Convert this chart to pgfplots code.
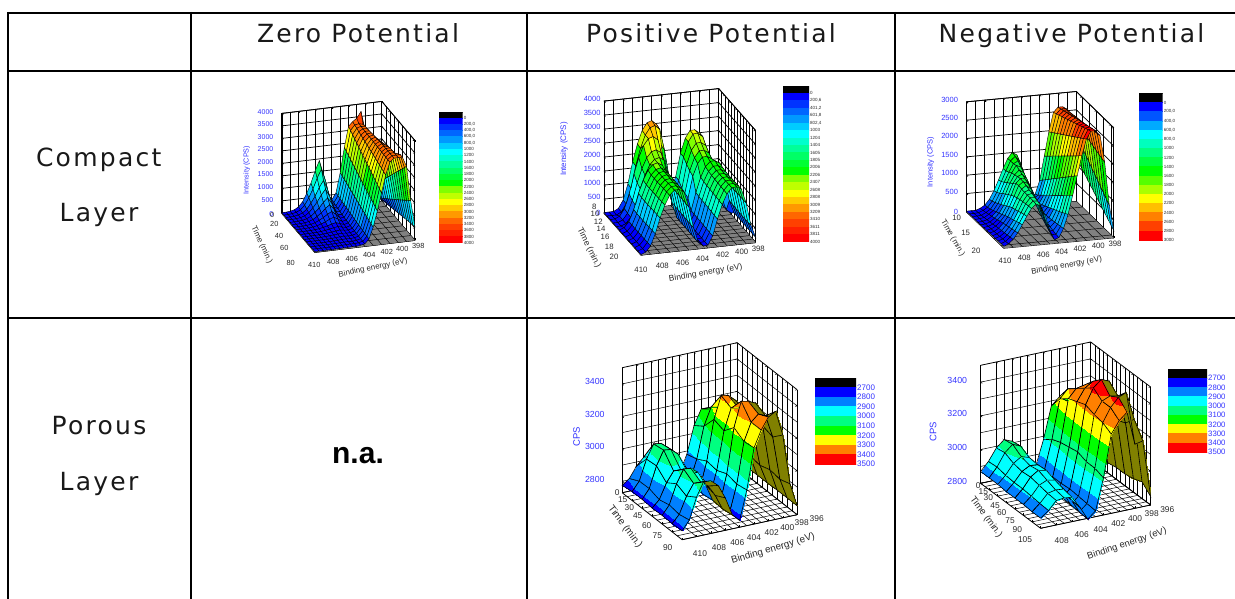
\documentclass[border=0pt]{standalone}
\usepackage{pgfplots}
\pgfplotsset{compat=1.18}
\usepackage{pgfplotstable}
\usepackage{fontspec}
\setmainfont{Liberation Sans}
\newfontfamily\headfont[LetterSpace=9]{DejaVu Sans}
\definecolor{tickblue}{RGB}{51,51,255}
\definecolor{ticktxt}{RGB}{40,40,40}

\pgfplotsset{
  colormap={cpstwentyone}{rgb255=(0,0,0) rgb255=(0,0,255) rgb255=(0,51,255) rgb255=(0,102,255) rgb255=(0,153,255) rgb255=(0,204,255) rgb255=(0,255,255) rgb255=(0,255,204) rgb255=(0,255,153) rgb255=(0,255,102) rgb255=(0,255,51) rgb255=(0,255,0) rgb255=(128,255,0) rgb255=(191,255,0) rgb255=(255,255,0) rgb255=(255,204,0) rgb255=(255,153,0) rgb255=(255,102,0) rgb255=(255,64,0) rgb255=(255,32,0) rgb255=(255,0,0)},
  colormap={cpssixteen}{rgb255=(0,0,0) rgb255=(0,0,255) rgb255=(0,85,255) rgb255=(0,170,255) rgb255=(0,255,255) rgb255=(0,255,190) rgb255=(0,255,128) rgb255=(0,255,64) rgb255=(0,255,0) rgb255=(85,255,0) rgb255=(170,255,0) rgb255=(255,255,0) rgb255=(255,191,0) rgb255=(255,128,0) rgb255=(255,64,0) rgb255=(255,0,0)},
  colormap={cpsnine}{rgb255=(0,0,0) rgb255=(0,0,255) rgb255=(0,128,255) rgb255=(0,255,255) rgb255=(0,255,128) rgb255=(0,255,0) rgb255=(255,255,0) rgb255=(255,128,0) rgb255=(255,0,0)},
  colormap={undersideolive}{rgb255=(128,128,0) rgb255=(128,128,0)},
  cube3d/.style={
    anchor=south west, clip=false, grid=both, no markers,
    major grid style={black,line width=0.7pt},
    minor grid style={black,line width=0.7pt},
    axis line style={black,line width=0.8pt},
    major tick length=2pt, minor tick length=0pt,
    tick style={black,line width=0.5pt},
    xticklabels={}, yticklabels={},
    /pgf/number format/assume math mode=true,
    /pgf/number format/1000 sep={},
    colormap access=piecewise constant,
  },
  meshsurf/.style={surf, shader=faceted, faceted color=black, z buffer=sort, line width=0.4pt, unbounded coords=jump},
  meshbands/.style={meshsurf, shader=faceted interp, line width=0.6pt},
}

% colour key: x, y (px), w, h, colormap, last index, labels, font size, colour
\pgfplotstableread{
x y
0 -1
1 -1
0 0
1 0
0 1
1 1
0 2
1 2
0 3
1 3
0 4
1 4
0 5
1 5
0 6
1 6
0 7
1 7
0 8
1 8
0 9
1 9
0 10
1 10
0 11
1 11
0 12
1 12
0 13
1 13
0 14
1 14
0 15
1 15
0 16
1 16
0 17
1 17
0 18
1 18
0 19
1 19
0 20
1 20
}\keygrid
\newcommand{\colorkey}[9]{
\begin{axis}[at={(#1pt,-#2pt)}, anchor=north west, scale only axis, width=#3pt, height=#4pt,
  axis line style={draw=none}, y dir=reverse, xmin=0, xmax=1, ymin=-1, ymax=#6,
  xtick=\empty, ytick={0,...,#6}, yticklabels={#7}, yticklabel pos=right, major tick length=0pt,
  tick label style={font=\fontsize{#8}{#8}\selectfont, text=#9, inner sep=1pt},
  colormap name=#5, colormap access=piecewise constant, point meta min=-1, point meta max=#6]
\addplot[surf, shader=flat mean, mesh/cols=2, point meta=y] table[x=x,y=y] {\keygrid};
\end{axis}
}
% grey floor with its grid: E min, E max, t min, t max, z, E list, t list
\newcommand{\greyfloor}[7]{
\addplot3[fill=gray,draw=none,forget plot] coordinates {(#1,#3,#5) (#2,#3,#5) (#2,#4,#5) (#1,#4,#5)};
\pgfplotsinvokeforeach{#6}{\addplot3[black,line width=0.45pt,forget plot] coordinates {(##1,#3,#5) (##1,#4,#5)};}
\pgfplotsinvokeforeach{#7}{\addplot3[black,line width=0.45pt,forget plot] coordinates {(#1,##1,#5) (#2,##1,#5)};}
}
% tick labels, placed where the reference has them
\newcommand{\ticktexts}[2]{\foreach \px/\py/\t in {#2} {\node[font=\fontsize{#1}{#1}\selectfont,text=ticktxt,inner sep=0pt] at (\px,\py) {\t};}}

% compact layer, zero potential
\pgfplotstableread{
398 0 63
398.5 0 162
399 0 690
399.5 0 1845
400 0 2934
400.5 0 3700
401 0 3450
401.5 0 3330
402 0 3165
402.5 0 2340
403 0 1350
403.5 0 563
404 0 309
404.5 0 538
405 0 1360
405.5 0 1930
406 0 1550
406.5 0 1075
407 0 695
407.5 0 372
408 0 182
408.5 0 87
409 0 49
409.5 0 30
410 0 30

398 5 94
398.5 5 252
399 5 835
399.5 5 1950
400 5 2971
400.5 5 3276
401 5 3325
401.5 5 3294
402 5 3096
402.5 5 2279
403 5 1311
403.5 5 542
404 5 288
404.5 5 476
405 5 1185
405.5 5 1680
406 5 1350
406.5 5 938
407 5 608
407.5 5 327
408 5 162
408.5 5 80
409 5 47
409.5 5 30
410 5 30

398 10 125
398.5 10 342
399 10 979
399.5 10 2056
400 10 3009
400.5 10 3289
401 10 3320
401.5 10 3259
402 10 3027
402.5 10 2218
403 10 1273
403.5 10 520
404 10 261
404.5 10 388
405 10 940
405.5 10 1330
406 10 1070
406.5 10 745
407 10 485
407.5 10 264
408 10 134
408.5 10 69
409 10 43
409.5 10 30
410 10 30

398 15 155
398.5 15 433
399 15 1124
399.5 15 2161
400 15 3046
400.5 15 3301
401 15 3315
401.5 15 3223
402 15 2958
402.5 15 2156
403 15 1234
403.5 15 499
404 15 240
404.5 15 325
405 15 765
405.5 15 1080
406 15 870
406.5 15 608
407 15 398
407.5 15 219
408 15 114
408.5 15 62
409 15 41
409.5 15 30
410 15 30

398 20 186
398.5 20 523
399 20 1269
399.5 20 2266
400 20 3083
400.5 20 3313
401 20 3310
401.5 20 3188
402 20 2889
402.5 20 2095
403 20 1195
403.5 20 479
404 20 219
404.5 20 263
405 20 590
405.5 20 830
406 20 670
406.5 20 470
407 20 310
407.5 20 174
408 20 94
408.5 20 54
409 20 38
409.5 20 30
410 20 30

398 25 217
398.5 25 613
399 25 1414
399.5 25 2372
400 25 3120
400.5 25 3325
401 25 3305
401.5 25 3152
402 25 2820
402.5 25 2034
403 25 1156
403.5 25 459
404 25 202
404.5 25 218
405 25 464
405.5 25 650
406 25 526
406.5 25 371
407 25 247
407.5 25 142
408 25 80
408.5 25 49
409 25 36
409.5 25 30
410 25 30

398 30 248
398.5 30 703
399 30 1558
399.5 30 2477
400 30 3158
400.5 30 3338
401 30 3300
401.5 30 3116
402 30 2751
402.5 30 1973
403 30 1118
403.5 30 440
404 30 186
404.5 30 176
405 30 345
405.5 30 480
406 30 390
406.5 30 278
407 30 188
407.5 30 111
408 30 66
408.5 30 44
409 30 35
409.5 30 30
410 30 30

398 35 278
398.5 35 793
399 35 1703
399.5 35 2582
400 35 3195
400.5 35 3350
401 35 3295
401.5 35 3081
402 35 2682
402.5 35 1911
403 35 1079
403.5 35 422
404 35 172
404.5 35 143
405 35 254
405.5 35 350
406 35 286
406.5 35 206
407 35 142
407.5 35 88
408 35 56
408.5 35 40
409 35 33
409.5 35 30
410 35 30

398 40 309
398.5 40 884
399 40 1848
399.5 40 2687
400 40 3232
400.5 40 3362
401 40 3290
401.5 40 3045
402 40 2613
402.5 40 1850
403 40 1040
403.5 40 404
404 40 159
404.5 40 113
405 40 170
405.5 40 230
406 40 190
406.5 40 140
407 40 100
407.5 40 66
408 40 46
408.5 40 36
409 40 32
409.5 40 30
410 40 30

398 45 340
398.5 45 974
399 45 1992
399.5 45 2793
400 45 3269
400.5 45 3374
401 45 3285
401.5 45 3010
402 45 2544
402.5 45 1789
403 45 1001
403.5 45 387
404 45 149
404.5 45 98
405 45 128
405.5 45 170
406 45 142
406.5 45 107
407 45 79
407.5 45 55
408 45 41
408.5 45 34
409 45 31
409.5 45 30
410 45 30

398 50 371
398.5 50 1064
399 50 2137
399.5 50 2898
400 50 3307
400.5 50 3387
401 50 3280
401.5 50 2974
402 50 2475
402.5 50 1728
403 50 963
403.5 50 371
404 50 141
404.5 50 88
405 50 100
405.5 50 130
406 50 110
406.5 50 85
407 50 65
407.5 50 48
408 50 38
408.5 50 33
409 50 31
409.5 50 30
410 50 30

398 55 401
398.5 55 1154
399 55 2282
399.5 55 3003
400 55 3344
400.5 55 3390
401 55 3275
401.5 55 2938
402 55 2406
402.5 55 1666
403 55 924
403.5 55 354
404 55 133
404.5 55 80
405 55 79
405.5 55 100
406 55 86
406.5 55 69
407 55 55
407.5 55 43
408 55 36
408.5 55 32
409 55 31
409.5 55 30
410 55 30

398 60 432
398.5 60 1244
399 60 2426
399.5 60 3109
400 60 3381
400.5 60 3390
401 60 3270
401.5 60 2903
402 60 2337
402.5 60 1605
403 60 885
403.5 60 339
404 60 126
404.5 60 75
405 60 65
405.5 60 80
406 60 70
406.5 60 58
407 60 48
407.5 60 39
408 60 34
408.5 60 32
409 60 31
409.5 60 30
410 60 30

398 65 463
398.5 65 1335
399 65 2571
399.5 65 3214
400 65 3390
400.5 65 3390
401 65 3265
401.5 65 2867
402 65 2268
402.5 65 1544
403 65 846
403.5 65 323
404 65 119
404.5 65 73
405 65 58
405.5 65 70
406 65 62
406.5 65 52
407 65 44
407.5 65 37
408 65 33
408.5 65 31
409 65 30
409.5 65 30
410 65 30

398 70 494
398.5 70 1425
399 70 2716
399.5 70 3319
400 70 3390
400.5 70 3390
401 70 3260
401.5 70 2832
402 70 2199
402.5 70 1483
403 70 808
403.5 70 308
404 70 113
404.5 70 70
405 70 51
405.5 70 60
406 70 54
406.5 70 47
407 70 41
407.5 70 35
408 70 32
408.5 70 31
409 70 30
409.5 70 30
410 70 30

398 75 524
398.5 75 1515
399 75 2860
399.5 75 3390
400 75 3390
400.5 75 3390
401 75 3255
401.5 75 2796
402 75 2130
402.5 75 1421
403 75 769
403.5 75 292
404 75 107
404.5 75 69
405 75 48
405.5 75 55
406 75 50
406.5 75 44
407 75 39
407.5 75 35
408 75 32
408.5 75 31
409 75 30
409.5 75 30
410 75 30

398 80 555
398.5 80 1605
399 80 3005
399.5 80 3390
400 80 3390
400.5 80 3390
401 80 3250
401.5 80 2760
402 80 2060
402.5 80 1360
403 80 730
403.5 80 276
404 80 101
404.5 80 68
405 80 44
405.5 80 50
406 80 46
406.5 80 41
407 80 37
407.5 80 34
408 80 32
408.5 80 31
409 80 30
409.5 80 30
410 80 30
}\compactzero

% compact layer, positive potential
\pgfplotstableread{
398 8 72
398.5 8 228
399 8 800
399.5 8 1840
400 8 2490
400.5 8 2620
401 8 2620
401.5 8 2360
402 8 1840
402.5 8 1023
403 8 538
403.5 8 1157
404 8 2190
404.5 8 2965
405 8 3120
405.5 8 3058
406 8 2810
406.5 8 2345
407 8 1725
407.5 8 950
408 8 392
408.5 8 113
409 8 20
409.5 8 20
410 8 20

398 9 72
398.5 9 228
399 9 800
399.5 9 1840
400 9 2490
400.5 9 2620
401 9 2620
401.5 9 2360
402 9 1840
402.5 9 1022
403 9 533
403.5 9 1140
404 9 2155
404.5 9 2918
405 9 3070
405.5 9 3010
406 9 2765
406.5 9 2308
407 9 1698
407.5 9 935
408 9 386
408.5 9 112
409 9 20
409.5 9 20
410 9 20

398 10 68
398.5 10 212
399 10 740
399.5 10 1700
400 10 2300
400.5 10 2420
401 10 2420
401.5 10 2180
402 10 1700
402.5 10 860
403 10 296
403.5 10 328
404 10 1000
404.5 10 1980
405 10 2680
405.5 10 2820
406 10 2764
406.5 10 2540
407 10 2120
407.5 10 1560
408 10 860
408.5 10 356
409 10 104
409.5 10 20
410 10 20

398 11 65
398.5 11 200
399 11 695
399.5 11 1595
400 11 2158
400.5 11 2270
401 11 2270
401.5 11 2045
402 11 1595
402.5 11 808
403 11 265
403.5 11 310
404 11 878
404.5 11 1735
405 11 2348
405.5 11 2470
406 11 2421
406.5 11 2225
407 11 1858
407.5 11 1368
408 11 755
408.5 11 314
409 11 94
409.5 11 20
410 11 20

398 12 63
398.5 12 192
399 12 665
399.5 12 1525
400 12 2063
400.5 12 2170
401 12 2170
401.5 12 1955
402 12 1525
402.5 12 773
403 12 261
403.5 12 293
404 12 825
404.5 12 1630
405 12 2205
405.5 12 2320
406 12 2274
406.5 12 2090
407 12 1745
407.5 12 1285
408 12 710
408.5 12 296
409 12 89
409.5 12 20
410 12 20

398 13 188
398.5 13 650
399 13 1490
399.5 13 2015
400 13 2120
400.5 13 2120
401 13 1952
401.5 13 1595
402 13 1070
402.5 13 440
403 13 104
403.5 13 88
404 13 245
404.5 13 808
405 13 1595
405.5 13 2158
406 13 2270
406.5 13 2225
407 13 2045
407.5 13 1708
408 13 1258
408.5 13 695
409 13 290
409.5 13 88
410 13 20

398 14 184
398.5 14 635
399 14 1455
399.5 14 1968
400 14 2070
400.5 14 2070
401 14 1906
401.5 14 1558
402 14 1045
402.5 14 430
403 14 102
403.5 14 86
404 14 240
404.5 14 790
405 14 1560
405.5 14 2110
406 14 2220
406.5 14 2176
407 14 2000
407.5 14 1670
408 14 1230
408.5 14 680
409 14 284
409.5 14 86
410 14 20

398 15 182
398.5 15 629
399 15 1441
399.5 15 1949
400 15 2050
400.5 15 2050
401 15 1888
401.5 15 1543
402 15 1035
402.5 15 426
403 15 101
403.5 15 86
404 15 240
404.5 15 790
405 15 1560
405.5 15 2110
406 15 2220
406.5 15 2176
407 15 2000
407.5 15 1670
408 15 1230
408.5 15 680
409 15 284
409.5 15 86
410 15 20

398 16 180
398.5 16 625
399 16 1435
399.5 16 1940
400 16 2040
400.5 16 2040
401 16 1880
401.5 16 1535
402 16 1030
402.5 16 424
403 16 100
403.5 16 86
404 16 240
404.5 16 790
405 16 1560
405.5 16 2110
406 16 2220
406.5 16 2176
407 16 2000
407.5 16 1670
408 16 1230
408.5 16 680
409 16 284
409.5 16 86
410 16 20

398 17 180
398.5 17 625
399 17 1440
399.5 17 1950
400 17 2050
400.5 17 2040
401 17 1870
401.5 17 1525
402 17 1020
402.5 17 420
403 17 100
403.5 17 85
404 17 235
404.5 17 785
405 17 1550
405.5 17 2100
406 17 2210
406.5 17 2180
407 17 2010
407.5 17 1680
408 17 1240
408.5 17 690
409 17 288
409.5 17 86
410 17 20

398 18 182
398.5 18 630
399 18 1445
399.5 18 1955
400 18 2055
400.5 18 2045
401 18 1865
401.5 18 1515
402 18 1010
402.5 18 415
403 18 98
403.5 18 85
404 18 232
404.5 18 780
405 18 1545
405.5 18 2095
406 18 2205
406.5 18 2185
407 18 2015
407.5 18 1685
408 18 1245
408.5 18 695
409 18 290
409.5 18 87
410 18 20

398 19 182
398.5 19 632
399 19 1450
399.5 19 1960
400 19 2060
400.5 19 2050
401 19 1860
401.5 19 1505
402 19 1000
402.5 19 410
403 19 96
403.5 19 84
404 19 230
404.5 19 775
405 19 1540
405.5 19 2090
406 19 2200
406.5 19 2190
407 19 2020
407.5 19 1690
408 19 1250
408.5 19 700
409 19 292
409.5 19 87
410 19 20

398 20 184
398.5 20 635
399 20 1455
399.5 20 1965
400 20 2065
400.5 20 2055
401 20 1855
401.5 20 1495
402 20 990
402.5 20 405
403 20 95
403.5 20 84
404 20 228
404.5 20 770
405 20 1535
405.5 20 2085
406 20 2195
406.5 20 2195
407 20 2025
407.5 20 1695
408 20 1255
408.5 20 705
409 20 295
409.5 20 88
410 20 20
}\compactpos

% compact layer, negative potential
\pgfplotstableread{
398 8 1190
398.5 8 2100
399 8 2542
399.5 8 2620
400 8 2620
400.5 8 2490
401 8 1970
401.5 8 1320
402 8 670
402.5 8 310
403 8 216
403.5 8 494
404 8 1056
404.5 8 1426
405 8 1500
405.5 8 1352
406 8 1086
406.5 8 790
407 8 508
407.5 8 286
408 8 138
408.5 8 64
409 8 20
409.5 8 20
410 8 20

398 9 1114
398.5 9 2008
399 9 2507
399.5 9 2636
400 9 2647
400.5 9 2527
401 9 2031
401.5 9 1397
402 9 756
402.5 9 355
403 9 249
403.5 9 447
404 9 927
404.5 9 1320
405 9 1470
405.5 9 1360
406 9 1100
406.5 9 820
407 9 540
407.5 9 310
408 9 155
408.5 9 80
409 9 28
409.5 9 20
410 9 20

398 10 1037
398.5 10 1916
399 10 2472
399.5 10 2651
400 10 2674
400.5 10 2564
401 10 2092
401.5 10 1474
402 10 842
402.5 10 431
403 10 270
403.5 10 374
404 10 774
404.5 10 1190
405 10 1420
405.5 10 1360
406 10 1140
406.5 10 880
407 10 590
407.5 10 350
408 10 180
408.5 10 100
409 10 35
409.5 10 25
410 10 20

398 11 961
398.5 11 1824
399 11 2437
399.5 11 2667
400 11 2701
400.5 11 2601
401 11 2153
401.5 11 1551
402 11 928
402.5 11 506
403 11 300
403.5 11 322
404 11 640
404.5 11 1040
405 11 1330
405.5 11 1390
406 11 1200
406.5 11 940
407 11 660
407.5 11 400
408 11 220
408.5 11 130
409 11 50
409.5 11 30
410 11 20

398 12 884
398.5 12 1732
399 12 2401
399.5 12 2682
400 12 2728
400.5 12 2638
401 12 2214
401.5 12 1628
402 12 1015
402.5 12 581
403 12 331
403.5 12 289
404 12 527
404.5 12 910
405 12 1250
405.5 12 1340
406 12 1220
406.5 12 1010
407 12 720
407.5 12 450
408 12 260
408.5 12 150
409 12 65
409.5 12 35
410 12 20

398 13 808
398.5 13 1640
399 13 2366
399.5 13 2698
400 13 2755
400.5 13 2675
401 13 2275
401.5 13 1705
402 13 1101
402.5 13 657
403 13 377
403.5 13 286
404 13 454
404.5 13 790
405 13 1170
405.5 13 1300
406 13 1250
406.5 13 1070
407 13 780
407.5 13 500
408 13 300
408.5 13 175
409 13 80
409.5 13 40
410 13 25

398 14 732
398.5 14 1548
399 14 2331
399.5 14 2714
400 14 2782
400.5 14 2711
401 14 2336
401.5 14 1782
402 14 1187
402.5 14 732
403 14 423
403.5 14 283
404 14 391
404.5 14 660
405 14 1080
405.5 14 1250
406 14 1270
406.5 14 1150
407 14 840
407.5 14 560
408 14 340
408.5 14 205
409 14 100
409.5 14 50
410 14 28

398 15 655
398.5 15 1457
399 15 2296
399.5 15 2729
400 15 2808
400.5 15 2748
401 15 2398
401.5 15 1859
402 15 1273
402.5 15 807
403 15 469
403.5 15 291
404 15 338
404.5 15 540
405 15 990
405.5 15 1200
406 15 1260
406.5 15 1170
407 15 890
407.5 15 620
408 15 390
408.5 15 240
409 15 120
409.5 15 58
410 15 30

398 16 579
398.5 16 1365
399 16 2261
399.5 16 2745
400 16 2835
400.5 16 2785
401 16 2459
401.5 16 1936
402 16 1359
402.5 16 882
403 16 515
403.5 16 298
404 16 284
404.5 16 450
405 16 900
405.5 16 1130
406 16 1230
406.5 16 1150
407 16 920
407.5 16 660
408 16 430
408.5 16 265
409 16 140
409.5 16 65
410 16 32

398 17 502
398.5 17 1273
399 17 2226
399.5 17 2760
400 17 2862
400.5 17 2822
401 17 2520
401.5 17 2013
402 17 1445
402.5 17 958
403 17 560
403.5 17 315
404 17 241
404.5 17 360
405 17 800
405.5 17 1060
406 17 1190
406.5 17 1140
407 17 950
407.5 17 690
408 17 460
408.5 17 290
409 17 155
409.5 17 72
410 17 35

398 18 426
398.5 18 1181
399 18 2190
399.5 18 2776
400 18 2889
400.5 18 2859
401 18 2581
401.5 18 2090
402 18 1532
402.5 18 1033
403 18 606
403.5 18 332
404 18 208
404.5 18 290
405 18 690
405.5 18 970
406 18 1170
406.5 18 1140
407 18 970
407.5 18 720
408 18 490
408.5 18 310
409 18 170
409.5 18 80
410 18 40

398 19 350
398.5 19 1089
399 19 2155
399.5 19 2792
400 19 2916
400.5 19 2896
401 19 2642
401.5 19 2167
402 19 1618
402.5 19 1108
403 19 657
403.5 19 349
404 19 185
404.5 19 220
405 19 580
405.5 19 900
406 19 1130
406.5 19 1140
407 19 990
407.5 19 760
408 19 530
408.5 19 340
409 19 185
409.5 19 88
410 19 45

398 20 273
398.5 20 997
399 20 2120
399.5 20 2807
400 20 2943
400.5 20 2933
401 20 2703
401.5 20 2244
402 20 1704
402.5 20 1184
403 20 708
403.5 20 367
404 20 161
404.5 20 160
405 20 470
405.5 20 840
406 20 1110
406.5 20 1130
407 20 1005
407.5 20 790
408 20 565
408.5 20 365
409 20 205
409.5 20 98
410 20 50

398 21 197
398.5 21 905
399 21 2085
399.5 21 2823
400 21 2970
400.5 21 2970
401 21 2764
401.5 21 2321
402 21 1790
402.5 21 1259
403 21 758
403.5 21 384
404 21 148
404.5 21 108
405 21 372
405.5 21 790
406 21 1065
406.5 21 1120
407 21 1010
407.5 21 812
408 21 592
408.5 21 383
409 21 218
409.5 21 108
410 21 53
}\compactneg

% porous layer, positive potential
\pgfplotstableread{
412 0 2775
411 0 2808
410 0 2875
409 0 2920
408 0 2915
407 0 2898
406 0 2853
405 0 2793
404 0 2770
403 0 2881
402 0 3048
401 0 3140
400 0 3130
399 0 3050
398 0 2900
397 0 2800
396 0 2775

412 15 2785
411 15 2840
410 15 2966
409 15 3050
408 15 3044
407 15 3008
406 15 2924
405 15 2812
404 15 2770
403 15 2899
402 15 3092
401 15 3200
400 15 3190
399 15 3170
398 15 3030
397 15 2880
396 15 2780

412 30 2785
411 30 2842
410 30 2973
409 30 3060
408 30 3054
407 30 3016
406 30 2930
405 30 2814
404 30 2772
403 30 2935
402 30 3182
401 30 3320
400 30 3310
399 30 3270
398 30 3155
397 30 2910
396 30 2782

412 45 2780
411 45 2822
410 45 2917
409 45 2980
408 45 2976
407 45 2948
406 45 2885
405 45 2800
404 45 2772
403 45 2926
402 45 3160
401 45 3290
400 45 3280
399 45 3250
398 45 3130
397 45 2900
396 45 2782

412 60 2783
411 60 2838
410 60 2959
409 60 3040
408 60 3035
407 60 3000
406 60 2918
405 60 2810
404 60 2772
403 60 2953
402 60 3228
401 60 3380
400 60 3370
399 60 3350
398 60 3200
397 60 2920
396 60 2785

412 75 2781
411 75 2828
410 75 2931
409 75 3000
408 75 2996
407 75 2965
406 75 2897
405 75 2805
404 75 2772
403 75 2938
402 75 3190
401 75 3300
400 75 3340
399 75 3320
398 75 3180
397 75 2910
396 75 2785

412 90 2785
411 90 2842
410 90 2973
409 90 3060
408 90 3054
407 90 3016
406 90 2930
405 90 2814
404 90 2772
403 90 2950
402 90 3200
401 90 3300
400 90 3370
399 90 3395
398 90 3240
397 90 2930
396 90 2785
}\porouspos

% porous layer, negative potential
\pgfplotstableread{
410 0 2870
409 0 2920
408 0 2990
407 0 3030
406 0 3010
405 0 2910
404 0 2810
403 0 2830
402 0 2980
401 0 3170
400 0 3213
399 0 3180
398 0 3100
397 0 2980
396 0 2830

410 15 2870
409 15 2925
408 15 3000
407 15 3040
406 15 3020
405 15 2920
404 15 2820
403 15 2840
402 15 3020
401 15 3250
400 15 3300
399 15 3290
398 15 3230
397 15 3100
396 15 2850

410 30 2870
409 30 2915
408 30 2975
407 30 3005
406 30 2990
405 30 2900
404 30 2815
403 30 2845
402 30 3040
401 30 3290
400 30 3340
399 30 3350
398 30 3300
397 30 3150
396 30 2860

410 45 2865
409 45 2910
408 45 2965
407 45 2990
406 45 2985
405 45 2900
404 45 2810
403 45 2845
402 45 3050
401 45 3310
400 45 3380
399 45 3410
398 45 3350
397 45 3180
396 45 2870

410 60 2865
409 60 2910
408 60 2970
407 60 3000
406 60 2990
405 60 2900
404 60 2810
403 60 2850
402 60 3060
401 60 3330
400 60 3420
399 60 3460
398 60 3440
397 60 3200
396 60 2870

410 75 2865
409 75 2905
408 75 2960
407 75 2980
406 75 2970
405 75 2890
404 75 2805
403 75 2845
402 75 3040
401 75 3310
400 75 3380
399 75 3400
398 75 3390
397 75 3220
396 75 2880

410 90 2860
409 90 2900
408 90 2950
407 90 2960
406 90 2955
405 90 2880
404 90 2800
403 90 2840
402 90 3040
401 90 3300
400 90 3380
399 90 3430
398 90 3450
397 90 3280
396 90 2900

410 105 2860
409 105 2895
408 105 2945
407 105 2950
406 105 2945
405 105 2875
404 105 2795
403 105 2835
402 105 3020
401 105 3270
400 105 3340
399 105 3380
398 105 3180
397 105 3190
396 105 2850
}\porousneg

\begin{document}
\begin{tikzpicture}[x=1pt,y=-1pt]
\path (0,0) rectangle (1235,599);
% table lines
\draw[line width=2pt] (8,13) -- (1235,13) (8,71) -- (1235,71) (8,318) -- (1235,318)
  (8,12) -- (8,599) (191,12) -- (191,599) (527,12) -- (527,599) (895,12) -- (895,599);
\tikzset{headtxt/.style={font=\headfont\fontsize{25}{25}\selectfont,anchor=base,text=black!90}}
\node[headtxt] at (358,42.7) {Zero Potential};
\node[headtxt] at (711,42.7) {Positive Potential};
\node[headtxt] at (1071.5,42.7) {Negative Potential};
\node[headtxt] at (98.7,166.7) {Compact};
\node[headtxt] at (99,222) {Layer};
\node[headtxt] at (99,434) {Porous};
\node[headtxt] at (99,490) {Layer};
\node[font=\bfseries\fontsize{30}{30}\selectfont,anchor=base] at (358,463) {n.a.};

% --- compact, zero
\begin{axis}[cube3d, at={(281.85pt,-252.4pt)},
  x={(-8.333pt,-1pt)}, y={(0.4125pt,-0.4875pt)}, z={(0pt,0.025pt)},
  xmin=398, xmax=410, ymin=0, ymax=80, zmin=0, zmax=4000,
  xtick={398,400,...,410}, minor x tick num=1, ytick={0,20,...,80}, minor y tick num=1,
  ztick={0,500,...,4000},
  tick label style={font=\fontsize{7}{8}\selectfont,text=ticktxt},
  z tick label style={text=tickblue,xshift=-5pt,yshift=-3pt},
  colormap name=cpstwentyone, point meta min=-200, point meta max=4000]
\greyfloor{398}{410}{0}{80}{0}{399,400,...,409}{10,20,...,70}
\addplot3[meshsurf, mesh/cols=25] table {\compactzero};
\end{axis}
\node[font=\fontsize{7.2}{8}\selectfont,text=tickblue,rotate=90] at (246.7,170) {Intensity (CPS)};
\node[font=\fontsize{7.9}{8}\selectfont,text=ticktxt,rotate=11.7] at (373,268) {Binding energy (eV)};
\node[font=\fontsize{8}{8}\selectfont,text=ticktxt,rotate=-65] at (261.7,245) {Time (min.)};
\ticktexts{7.4}{314.3/265.3/410,333.3/262.3/408,351.7/258.7/406,369.3/255.3/404,386.7/252/402,402.3/249/400,418.3/246/398,
  272.3/215/0,274.3/224/20,279/235.7/40,284.3/248.3/60,290.7/263.3/80}
\colorkey{439}{111.7}{23.7}{131}{cpstwentyone}{20}{0,{200,0},{400,0},{600,0},{800,0},1000,1200,1400,1600,1800,2000,2200,2400,2600,2800,3000,3200,3400,3600,3800,4000}{4.5}{ticktxt}

% --- compact, positive
\begin{axis}[cube3d, at={(604pt,-255.1pt)},
  x={(-9.558pt,-1.042pt)}, y={(3.083pt,-3.5pt)}, z={(0pt,0.028pt)},
  xmin=398, xmax=410, ymin=8, ymax=20, zmin=0, zmax=4000,
  xtick={398,400,...,410}, minor x tick num=1, ytick={8,10,...,20}, minor y tick num=1,
  ztick={0,500,...,4000},
  tick label style={font=\fontsize{7.5}{8}\selectfont,text=ticktxt},
  z tick label style={text=tickblue,yshift=-2pt},
  colormap name=cpstwentyone, point meta min=-200, point meta max=4000]
\greyfloor{398}{410}{8}{20}{0}{399,400,...,409}{9,10,...,19}
\addplot3[meshsurf, mesh/cols=25] table {\compactpos};
\end{axis}
\node[font=\fontsize{8}{8}\selectfont,text=tickblue,rotate=90] at (564,149) {Intensity (CPS)};
\node[font=\fontsize{8.4}{8}\selectfont,text=ticktxt,rotate=9.5] at (705.7,273) {Binding energy (eV)};
\node[font=\fontsize{8.7}{8}\selectfont,text=ticktxt,rotate=-64] at (589,248) {Time (min.)};
\ticktexts{7.8}{641/270/410,662.3/266/408,682.7/262.7/406,702.7/259/404,722.7/255.3/402,741.7/252.3/400,758.3/249/398,
  594.3/207.3/8,595/214/10,598.3/221.7/12,601/229/14,605/237.3/16,609.3/246.7/18,614/256.7/20}
\colorkey{783}{85.7}{26}{156}{cpstwentyone}{20}{0,{200,6},{401,2},{601,8},{802,4},1003,1204,1404,1605,1805,2006,2206,2407,2608,2808,3009,3209,3410,3611,3811,4000}{4.5}{ticktxt}

% --- compact, negative
\begin{axis}[cube3d, at={(966.5pt,-248.2pt)},
  x={(-9.15pt,-0.8625pt)}, y={(2.885pt,-2.796pt)}, z={(0pt,0.03667pt)},
  xmin=398, xmax=410, ymin=8, ymax=21, zmin=0, zmax=3000,
  xtick={398,400,...,410}, minor x tick num=1, ytick={10,15,20}, minor y tick num=1,
  ztick={0,500,...,3000},
  tick label style={font=\fontsize{7.5}{8}\selectfont,text=ticktxt},
  z tick label style={text=tickblue,xshift=-5pt,yshift=-2pt},
  colormap name=cpssixteen, point meta min=-200, point meta max=3000]
\greyfloor{398}{410}{8}{21}{0}{399,400,...,409}{10,12.5,15,17.5,20}
\addplot3[meshsurf, mesh/cols=25] table {\compactneg};
\end{axis}
\node[font=\fontsize{7.5}{8}\selectfont,text=tickblue,rotate=90] at (930.7,162) {Intensity (CPS)};
\node[font=\fontsize{8.1}{8}\selectfont,text=ticktxt,rotate=10.5] at (1066.7,265.7) {Binding energy (eV)};
\node[font=\fontsize{8}{8}\selectfont,text=ticktxt,rotate=-60] at (952.7,238) {Time (min.)};
\ticktexts{7.8}{1005/261/410,1024.3/257.7/408,1043.3/255/406,1061.7/251.7/404,1080/249/402,1098.3/246/400,1115/243.7/398,
  956.7/218.3/10,965.7/233.3/15,976/251/20}
\colorkey{1139}{93.3}{23.7}{146.7}{cpssixteen}{15}{0,{200,0},{400,0},{600,0},{800,0},1000,1200,1400,1600,1800,2000,2200,2400,2600,2800,3000}{4.5}{ticktxt}

% --- porous, positive
\begin{axis}[cube3d, at={(622.15pt,-539.7pt)},
  x={(-7.1875pt,-1.5625pt)}, y={(0.6667pt,-0.5222pt)}, z={(0pt,0.16234pt)},
  xmin=396, xmax=412, ymin=0, ymax=90, zmin=2730, zmax=3500,
  xtick={396,398,...,410}, minor x tick num=1, ytick={0,15,...,90}, minor y tick num=1,
  ztick={2800,3000,3200,3400}, minor z tick num=1,
  tick label style={font=\fontsize{8.8}{10}\selectfont,text=ticktxt},
  z tick label style={text=tickblue,xshift=-14pt,yshift=-1pt},
  major grid style={black,line width=0.5pt}, minor grid style={black,line width=0.5pt},
  colormap name=cpsnine, point meta min=2600, point meta max=3500]
\addplot3[meshbands, mesh/cols=17, colormap name=undersideolive, restrict x to domain=396:400] table {\porouspos};
\addplot3[meshbands, mesh/cols=17, restrict x to domain=400:405] table {\porouspos};
\addplot3[meshbands, mesh/cols=17, colormap name=undersideolive, restrict x to domain=405:408, restrict y to domain=60:90] table {\porouspos};
\addplot3[meshbands, mesh/cols=17, restrict x to domain=405:408, restrict y to domain=0:60] table {\porouspos};
\addplot3[meshbands, mesh/cols=17, restrict x to domain=408:412] table {\porouspos};
\end{axis}
\node[font=\fontsize{9.5}{10}\selectfont,text=tickblue,rotate=90] at (576.7,437) {CPS};
\node[font=\fontsize{9.8}{10}\selectfont,text=ticktxt,rotate=16.7] at (773,549) {Binding energy (eV)};
\node[font=\fontsize{10}{10}\selectfont,text=ticktxt,rotate=-53] at (625,527) {Time (min.)};
\ticktexts{8.4}{700/553.3/410,719/547.7/408,737.3/542.7/406,754/537.3/404,771.7/532.3/402,787.3/527.3/400,801.7/522.7/398,816.7/518.3/396,
  617.3/492.3/0,622.7/500/15,629.3/507.7/30,637.7/516/45,646.7/525.3/60,657.3/536/75,667.7/547.3/90}
\colorkey{815}{378}{41}{86}{cpsnine}{8}{2700,2800,2900,3000,3100,3200,3300,3400,3500}{8}{tickblue}

% --- porous, negative
\begin{axis}[cube3d, at={(980.6pt,-528.3pt)},
  x={(-7.857pt,-1.664pt)}, y={(0.5714pt,-0.4286pt)}, z={(0pt,0.16857pt)},
  xmin=396, xmax=410, ymin=0, ymax=105, zmin=2800, zmax=3500,
  xtick={396,398,...,408}, minor x tick num=1, ytick={0,15,...,105}, minor y tick num=1,
  ztick={2800,3000,3200,3400}, minor z tick num=1,
  tick label style={font=\fontsize{8.8}{10}\selectfont,text=ticktxt},
  z tick label style={text=tickblue,xshift=-10pt,yshift=-1pt},
  major grid style={black,line width=0.5pt}, minor grid style={black,line width=0.5pt},
  colormap name=cpsnine, point meta min=2600, point meta max=3500]
\addplot3[meshbands, mesh/cols=15, colormap name=undersideolive, restrict x to domain=396:399] table {\porousneg};
\addplot3[meshbands, mesh/cols=15, restrict x to domain=399:410] table {\porousneg};
\end{axis}
\node[font=\fontsize{9.5}{10}\selectfont,text=tickblue,rotate=90] at (933,432) {CPS};
\node[font=\fontsize{9.4}{10}\selectfont,text=ticktxt,rotate=18.7] at (1127,544) {Binding energy (eV)};
\node[font=\fontsize{9.5}{10}\selectfont,text=ticktxt,rotate=-53.5] at (986,517) {Time (min.)};
\ticktexts{8.4}{1061.7/540.7/408,1081.7/535/406,1100.7/529.3/404,1118.3/524/402,1135/519/400,1151.7/513.3/398,1167.3/509.3/396,
  978.3/485.7/0,983.3/491.7/15,988.3/497.3/30,995/505.3/45,1001.7/512.7/60,1010/521/75,1017.3/530/90,1025/539.3/105}
\colorkey{1168}{369}{39}{83}{cpsnine}{8}{2700,2800,2900,3000,3100,3200,3300,3400,3500}{7.8}{tickblue}

\pgfresetboundingbox
\path[use as bounding box] (0,0) rectangle (1235,599);
\end{tikzpicture}
\end{document}
